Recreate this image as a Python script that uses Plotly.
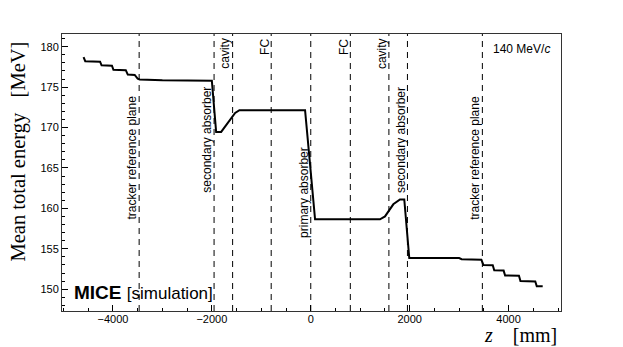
import plotly.graph_objects as go

# mean total energy along the channel
z_mm = [-4594, -4560, -4260, -4230, -4020, -3990, -3740, -3700, -3560, -3500,
        -3460, -3000, -2000, -1913, -1812, -1671, -1529, -1442, -115, -30,
        87, 1400, 1501, 1669, 1804, 1891, 1992, 3000, 3050, 3450,
        3490, 3680, 3710, 3900, 3930, 4210, 4240, 4540, 4570, 4690]
e_mev = [178.7, 178.2, 178.15, 177.7, 177.65, 177.15, 177.1, 176.55, 176.5, 176.05,
         175.95, 175.85, 175.8, 169.45, 169.45, 170.7, 171.8, 172.15, 172.15, 166.5,
         158.65, 158.65, 159.0, 160.5, 161.1, 161.1, 153.85, 153.85, 153.7, 153.65,
         153.0, 152.95, 152.35, 152.3, 151.7, 151.65, 151.0, 150.95, 150.35, 150.35]

# element positions and labels
elem_z = [-3470, -1955, -1580, -800, 0, 800, 1580, 1955, 3470]
elem_label = ["tracker reference plane", "secondary absorber", "cavity", "FC",
              "primary absorber", "FC", "cavity", "secondary absorber",
              "tracker reference plane"]
label_y = [166.3, 168.5, 179.2, 180.0, 162.0, 180.0, 179.2, 168.5, 166.3]

fig = go.Figure()
fig.add_trace(go.Scatter(x=z_mm, y=e_mev, mode="lines",
                         line=dict(color="black", width=2), showlegend=False))

for zz in elem_z:
    fig.add_shape(type="line", x0=zz, x1=zz, y0=0, y1=1, yref="paper",
                  line=dict(color="black", width=1, dash="6px,5px"))

for zz, lab, yy in zip(elem_z, elem_label, label_y):
    fig.add_annotation(x=zz, y=yy, text=lab, textangle=-90, showarrow=False,
                       xanchor="center", yanchor="middle", xshift=-7,
                       font=dict(family="Liberation Sans", size=12, color="black"))

fig.add_annotation(xref="paper", yref="paper", x=0.02, y=0.066, showarrow=False,
                   xanchor="left", yanchor="middle",
                   text="<b>MICE</b> <span style='font-size:17px'>[simulation]</span>",
                   font=dict(family="Liberation Sans", size=19, color="black"))
fig.add_annotation(xref="paper", yref="paper", x=0.982, y=0.946, showarrow=False,
                   xanchor="right", yanchor="middle", text="140 MeV/<i>c</i>",
                   font=dict(family="Liberation Sans", size=12, color="black"))
fig.add_annotation(xref="paper", yref="paper", x=-0.088, y=0.576, showarrow=False,
                   textangle=-90, xanchor="center", yanchor="middle",
                   text="Mean total energy&nbsp;&nbsp;&nbsp;[MeV]",
                   font=dict(family="Liberation Serif", size=20.5, color="black"))
fig.add_annotation(xref="paper", yref="paper", x=0.996, y=-0.088, showarrow=False,
                   xanchor="right", yanchor="middle",
                   text="<i>z</i>&nbsp;&nbsp;&nbsp;&nbsp;[mm]",
                   font=dict(family="Liberation Serif", size=20, color="black"))

fig.update_layout(
    width=623, height=347,
    margin=dict(l=62, r=62, t=34, b=36),
    plot_bgcolor="white", paper_bgcolor="white",
    font=dict(family="Liberation Sans", size=11, color="black"),
    xaxis=dict(range=[-5030, 5060], tickvals=[-4000, -2000, 0, 2000, 4000],
               ticks="inside", ticklen=6, tickcolor="black", ticklabelstandoff=-2,
               minor=dict(dtick=500, tick0=0, ticks="inside", ticklen=3, tickcolor="black"),
               showline=True, linecolor="#333", linewidth=1, mirror=True,
               showgrid=False, zeroline=False),
    yaxis=dict(range=[147.3, 181.57], tickvals=[150, 155, 160, 165, 170, 175, 180],
               ticks="inside", ticklen=6, tickcolor="black",
               minor=dict(dtick=1, tick0=0, ticks="inside", ticklen=3, tickcolor="black"),
               showline=True, linecolor="#333", linewidth=1, mirror=True,
               showgrid=False, zeroline=False),
)

fig.write_html("out.html", config={"displayModeBar": False},
               post_script="document.body.style.margin='0';")
